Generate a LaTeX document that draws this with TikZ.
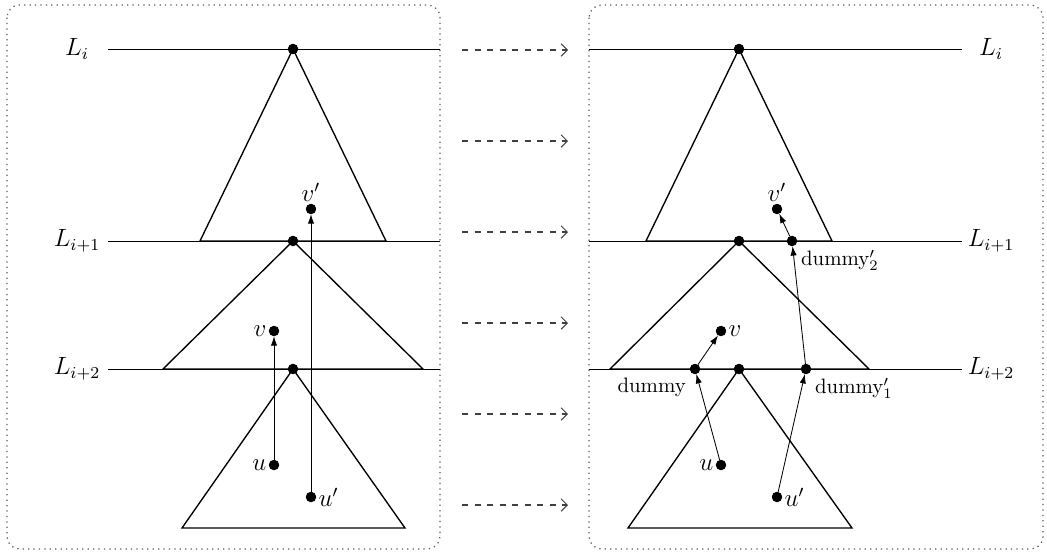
\documentclass[tikz,border=0pt]{standalone}
\usetikzlibrary{arrows.meta}

\begin{document}
\begin{tikzpicture}[x=0.48pt, y=-0.48pt,
                    vertex/.style={circle, draw, fill=black, inner sep=0pt, minimum width=4.6pt},
                    layer_style/.style={draw=black, line width=0.45pt},
                    tree_style/.style={draw=black, line width=0.65pt},
                    link_style/.style={draw=black, line width=0.4pt, -{Latex[length=4.5pt, width=3pt]}},
                    move_style/.style={draw=black!75, dashed, line width=0.5pt, -{Straight Barb[length=3pt, width=6pt]}},
                    panel_style/.style={draw=black!65, dotted, line width=0.6pt, rounded corners=6pt},
                    every label/.style={inner sep=1pt, font=\large},
                    dummy_label/.style={label distance=2pt, font=\normalsize}]
                    \useasboundingbox (0,0) rectangle (1047,552);
                    \draw[panel_style] (7,5) rectangle (440,549);
                    \draw[panel_style] (589,5) rectangle (1043,549);
                    % left panel
                    \node[font=\large] (ll0) at (77,49) {$L_i$};
                    \node[font=\large] (ll1) at (77,241) {$L_{i+1}$};
                    \node[font=\large] (ll2) at (77,369) {$L_{i+2}$};
                    \coordinate (ls0) at (108,49);
                    \coordinate (le0) at (440,49);
                    \coordinate (ls1) at (108,241);
                    \coordinate (le1) at (440,241);
                    \coordinate (ls2) at (108,369);
                    \coordinate (le2) at (440,369);
                    \node[vertex] (lt0) at (293,49) {};
                    \node[vertex] (lt1) at (293,241) {};
                    \node[vertex] (lt2) at (293,369) {};
                    \coordinate (la0) at (200,241);
                    \coordinate (lb0) at (386,241);
                    \coordinate (la1) at (163,369);
                    \coordinate (lb1) at (423,369);
                    \coordinate (la2) at (182,528);
                    \coordinate (lb2) at (405,528);
                    \node[vertex, label=above:$v'$] (lvp) at (311,209) {};
                    \node[vertex, label=left:$v$] (lv) at (274,331) {};
                    \node[vertex, label=left:$u$] (lu) at (274,465) {};
                    \node[vertex, label=right:$u'$] (lup) at (311,497) {};
                    \draw[layer_style] (ls0) -- (le0);
                    \draw[layer_style] (ls1) -- (le1);
                    \draw[layer_style] (ls2) -- (le2);
                    \draw[tree_style] (lt0.center) -- (la0) -- (lb0) -- cycle;
                    \draw[tree_style] (lt1.center) -- (la1) -- (lb1) -- cycle;
                    \draw[tree_style] (lt2.center) -- (la2) -- (lb2) -- cycle;
                    \draw[link_style] (lu) -- (lv);
                    \draw[link_style] (lup) -- (lvp);
                    % moves between the panels
                    \coordinate (m0) at (462,50);
                    \coordinate (n0) at (568,50);
                    \coordinate (m1) at (462,141);
                    \coordinate (n1) at (568,141);
                    \coordinate (m2) at (462,232);
                    \coordinate (n2) at (568,232);
                    \coordinate (m3) at (462,323);
                    \coordinate (n3) at (568,323);
                    \coordinate (m4) at (462,414);
                    \coordinate (n4) at (568,414);
                    \coordinate (m5) at (462,505);
                    \coordinate (n5) at (568,505);
                    \draw[move_style] (m0) -- (n0);
                    \draw[move_style] (m1) -- (n1);
                    \draw[move_style] (m2) -- (n2);
                    \draw[move_style] (m3) -- (n3);
                    \draw[move_style] (m4) -- (n4);
                    \draw[move_style] (m5) -- (n5);
                    % right panel
                    \node[font=\large] (rl0) at (991,49) {$L_i$};
                    \node[font=\large] (rl1) at (991,241) {$L_{i+1}$};
                    \node[font=\large] (rl2) at (991,369) {$L_{i+2}$};
                    \coordinate (rs0) at (589,49);
                    \coordinate (re0) at (962,49);
                    \coordinate (rs1) at (589,241);
                    \coordinate (re1) at (962,241);
                    \coordinate (rs2) at (589,369);
                    \coordinate (re2) at (962,369);
                    \node[vertex] (rt0) at (739,49) {};
                    \node[vertex] (rt1) at (739,241) {};
                    \node[vertex] (rt2) at (739,369) {};
                    \coordinate (ra0) at (646,241);
                    \coordinate (rb0) at (832,241);
                    \coordinate (ra1) at (610,369);
                    \coordinate (rb1) at (869,369);
                    \coordinate (ra2) at (628,528);
                    \coordinate (rb2) at (852,528);
                    \node[vertex, label=above:$v'$] (rvp) at (777,209) {};
                    \node[vertex, label=right:$v$] (rv) at (721,331) {};
                    \node[vertex, label=left:$u$] (ru) at (721,465) {};
                    \node[vertex, label=right:$u'$] (rup) at (777,497) {};
                    \node[vertex, label={[dummy_label]below left:dummy}] (dm) at (695,369) {};
                    \node[vertex, label={[dummy_label]below right:dummy$'_1$}] (dm1) at (806,369) {};
                    \node[vertex, label={[dummy_label]below right:dummy$'_2$}] (dm2) at (792,241) {};
                    \draw[layer_style] (rs0) -- (re0);
                    \draw[layer_style] (rs1) -- (re1);
                    \draw[layer_style] (rs2) -- (re2);
                    \draw[tree_style] (rt0.center) -- (ra0) -- (rb0) -- cycle;
                    \draw[tree_style] (rt1.center) -- (ra1) -- (rb1) -- cycle;
                    \draw[tree_style] (rt2.center) -- (ra2) -- (rb2) -- cycle;
                    \draw[link_style] (ru) -- (dm);
                    \draw[link_style] (dm) -- (rv);
                    \draw[link_style] (rup) -- (dm1);
                    \draw[link_style] (dm1) -- (dm2);
                    \draw[link_style] (dm2) -- (rvp);
                \end{tikzpicture}
\end{document}
